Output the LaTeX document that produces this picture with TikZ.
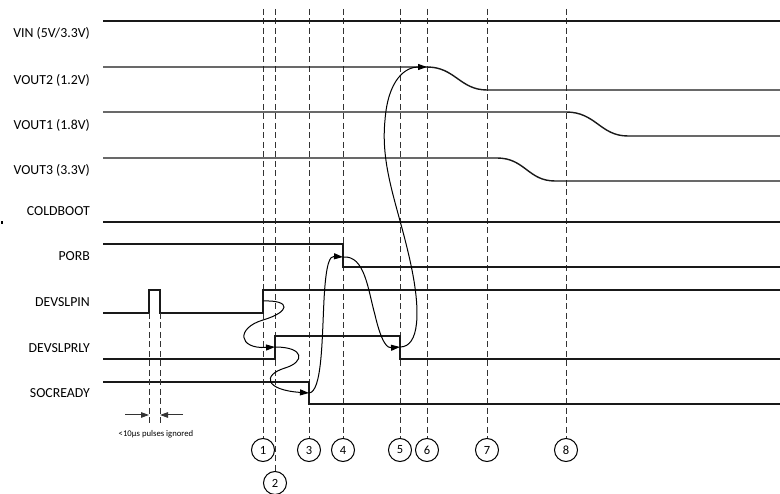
\documentclass[tikz,border=0pt]{standalone}
\usepackage{fontspec}
\setmainfont{Carlito}
\usetikzlibrary{arrows.meta}
\begin{document}
\begin{tikzpicture}[x=1pt,y=-1pt,
  sig/.style={line width=1.4pt,black!90},
  guide/.style={line width=1pt,black!80,dash pattern=on 6pt off 3.5pt},
  lbl/.style={anchor=east,inner sep=0pt,font=\fontsize{13.8}{16}\selectfont},
  evt/.style={circle,draw,line width=1pt,minimum size=23pt,inner sep=0pt,font=\fontsize{12.5}{14}\selectfont},
  cause/.style={line width=1pt,-{Triangle[length=9pt,width=6pt]}},
  small/.style={font=\fontsize{8.7}{10}\selectfont,inner sep=0pt}]
\useasboundingbox (0,0) rectangle (780,494);

% labels
\node[lbl] (lVIN) at (90,33) {VIN (5V/3.3V)};
\node[lbl] (lV2) at (90,80) {VOUT2 (1.2V)};
\node[lbl] (lV1) at (90,125) {VOUT1 (1.8V)};
\node[lbl] (lV3) at (90,170) {VOUT3 (3.3V)};
\node[lbl] (lCB) at (90,211) {COLDBOOT};
\node[lbl] (lPORB) at (90,256) {PORB};
\node[lbl] (lDSI) at (90,302) {DEVSLPIN};
\node[lbl] (lDSR) at (90,348) {DEVSLPRLY};
\node[lbl] (lSOC) at (90,393) {SOCREADY};
\fill (1,221.5) rectangle (3,224);

% dashed event guides
\foreach \n/\x/\yb in {1/263/438, 2/275/471, 3/309/438, 4/343/438, 5/400/438, 6/427/438, 7/487/438, 8/566/438}{
  \draw[guide] (\x,9) -- (\x,\yb);
}
% event circles
\node[evt] (e1) at (263,450) {1};
\node[evt] (e2) at (275,483) {2};
\node[evt] (e3) at (309,450) {3};
\node[evt] (e4) at (343,450) {4};
\node[evt] (e5) at (400,450) {5};
\node[evt] (e6) at (427,450) {6};
\node[evt] (e7) at (487,450) {7};
\node[evt] (e8) at (566,450) {8};

% waveforms
\draw[sig] (103,21) -- (780,21);
\draw[sig] (103,67) -- (427,67) .. controls (455,67) and (460,90) .. (487,90) -- (780,90);
\draw[sig] (103,112) -- (566,112) .. controls (596,112) and (600,136) .. (628,136) -- (780,136);
\draw[sig] (103,158) -- (497,158) .. controls (525,158) and (528,181) .. (555,181) -- (780,181);
\draw[sig] (103,222) -- (780,222);
\draw[sig] (103,244) -- (343,244) -- (343,267) -- (780,267);
\draw[sig] (103,313) -- (149,313) -- (149,290) -- (160,290) -- (160,313) -- (263,313) -- (263,290) -- (780,290);
\draw[sig] (103,359) -- (275,359) -- (275,336) -- (400,336) -- (400,359) -- (780,359);
\draw[sig] (103,382) -- (309,382) -- (309,404) -- (780,404);

% ignored pulse width
\draw[guide] (149,313) -- (149,423);
\draw[guide] (160,313) -- (160,423);
\coordinate (pl) at (125,415);
\coordinate (pla) at (149,415);
\coordinate (pr) at (183,415);
\coordinate (pra) at (160,415);
\draw[line width=1pt,black!80,-{Triangle[length=8pt,width=5.5pt]}] (pl) -- (pla);
\draw[line width=1pt,black!80,-{Triangle[length=8pt,width=5.5pt]}] (pr) -- (pra);
\node[small] (note) at (156,434) {<10µs pulses ignored};

% causal arrows
\coordinate (c1) at (263,301);
\coordinate (c2) at (275,347);
\coordinate (c3) at (309,393);
\coordinate (c4) at (343,257);
\coordinate (c5) at (400,347);
\coordinate (c6) at (427,67);
\draw[cause] (c1) .. controls (292,300) and (290,312) .. (263,320) .. controls (236,328) and (238,349) .. (c2);
\draw[cause] (c2) .. controls (305,347) and (305,362) .. (285,368) .. controls (262,375) and (265,390) .. (c3);
\draw[cause] (c3) .. controls (322,392) and (322,340) .. (324,300) .. controls (326,262) and (330,256) .. (c4);
\draw[cause] (c4) .. controls (365,255) and (368,290) .. (375,315) .. controls (382,345) and (388,348) .. (c5);
\draw[cause] (c5) .. controls (420,347) and (420,310) .. (412,270) .. controls (400,210) and (380,170) .. (385,120) .. controls (388,80) and (405,67) .. (c6);
\end{tikzpicture}
\end{document}
